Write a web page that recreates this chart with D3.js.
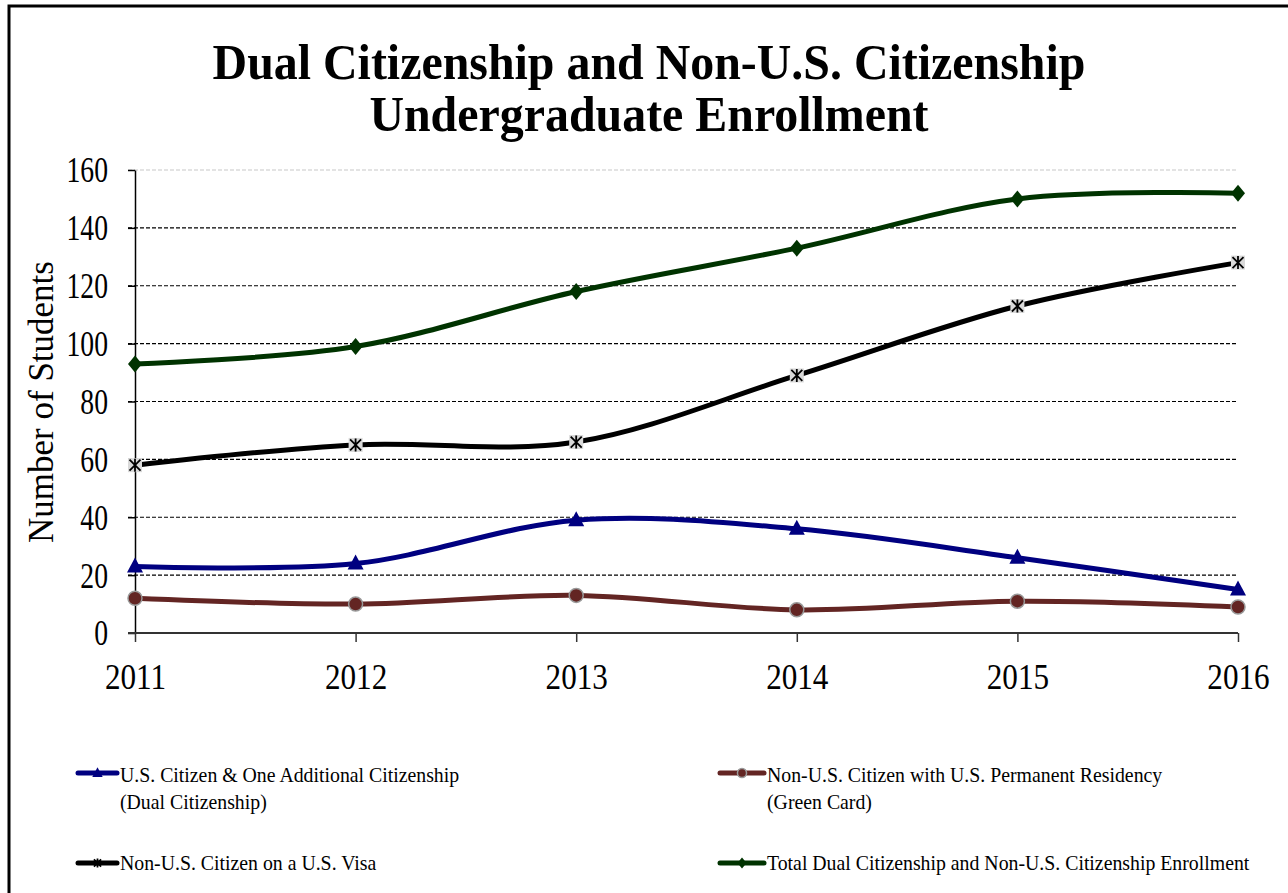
<!DOCTYPE html>
<html>
<head>
<meta charset="utf-8">
<script src="https://cdn.jsdelivr.net/npm/d3@7"></script>
<style>
  html, body { margin: 0; padding: 0; background: #fff; }
  svg { display: block; }
  text { font-family: "Liberation Serif", "Times New Roman", serif; fill: #000; }
</style>
</head>
<body>
<svg id="chart" width="1288" height="893"></svg>
<script>
// ---- data ----
const years = [2011, 2012, 2013, 2014, 2015, 2016];
const dualCitizenship = [23, 24, 39, 36, 26, 15];
const greenCard = [12, 10, 13, 8, 11, 9];
const visa = [58, 65, 66, 89, 113, 128];
const total = [93, 99, 118, 133, 150, 152];
const yTicks = [0, 20, 40, 60, 80, 100, 120, 140, 160];
const titleLines = ["Dual Citizenship and Non-U.S. Citizenship", "Undergraduate Enrollment"];
const yAxisLabel = "Number of Students";
const seriesNames = [
  ["U.S. Citizen & One Additional Citizenship", "(Dual Citizenship)"],
  ["Non-U.S. Citizen with U.S. Permanent Residency", "(Green Card)"],
  ["Non-U.S. Citizen on a U.S. Visa"],
  ["Total Dual Citizenship and Non-U.S. Citizenship Enrollment"]
];

const svg = d3.select("#chart");

function squeeze(sel, k) {
  sel.each(function() {
    const t = d3.select(this);
    const x = +t.attr("x");
    t.attr("transform", `translate(${x},0) scale(${k},1) translate(${-x},0)`);
  });
}

// border
svg.append("path")
  .attr("d", "M9,893 V6 H1288")
  .attr("fill", "none").attr("stroke", "#000").attr("stroke-width", 3);

// scales
const x = d3.scalePoint().domain(years).range([135, 1238]);
const y = d3.scaleLinear().domain([0, 160]).range([633, 170]);

// title
const title = svg.append("g");
titleLines.forEach((t, i) => {
  const tx = title.append("text")
    .attr("x", 649).attr("y", [79, 131][i])
    .attr("text-anchor", "middle")
    .attr("font-weight", "bold")
    .attr("font-size", 50)
    .text(t);
  squeeze(tx, 0.958);
});

// gridlines
const grid = svg.append("g");
grid.selectAll("line").data(yTicks.filter(d => d > 0)).join("line")
  .attr("x1", 128).attr("x2", 1238)
  .attr("y1", d => y(d)).attr("y2", d => y(d))
  .attr("stroke", d => d === 160 ? "#c8c8c8" : "#000")
  .attr("stroke-width", 1.2)
  .attr("stroke-dasharray", "4,2");

// y axis
const yAxis = svg.append("g").attr("transform", "translate(135,0)")
  .call(d3.axisLeft(y).tickValues(yTicks).tickSize(7).tickPadding(20).tickSizeOuter(0));
yAxis.select(".domain").attr("stroke", "#000").attr("stroke-width", 1.5);
yAxis.selectAll(".tick line").attr("stroke", "#000").attr("stroke-width", 1.5);
yAxis.selectAll(".tick text")
  .attr("font-family", "Liberation Serif").attr("font-size", 35).attr("fill", "#000")
  .attr("dy", "0.34em")
  .attr("transform", "translate(-27,0) scale(0.79,1) translate(27,0)");

// x axis
const xAxis = svg.append("g").attr("transform", "translate(0,633)")
  .call(d3.axisBottom(x).tickSize(9).tickPadding(22).tickSizeOuter(0).tickFormat(d3.format("d")));
xAxis.select(".domain").attr("stroke", "#333").attr("stroke-width", 2).attr("d", "M128,0H1238");
xAxis.selectAll(".tick line").attr("stroke", "#333").attr("stroke-width", 1.5);
xAxis.selectAll(".tick text")
  .attr("font-family", "Liberation Serif").attr("font-size", 35).attr("fill", "#000")
  .attr("dy", "0.71em")
  .attr("transform", "scale(0.89,1)");

// y axis label
svg.append("text")
  .attr("transform", "translate(53,402) rotate(-90)")
  .attr("text-anchor", "middle")
  .attr("font-size", 35)
  .text(yAxisLabel);

// series
const series = [
  { values: dualCitizenship, color: "#000080", marker: "triangle" },
  { values: greenCard, color: "#632523", marker: "circle" },
  { values: visa, color: "#000000", marker: "star" },
  { values: total, color: "#003300", marker: "diamond" }
];

const line = d3.line()
  .x((d, i) => x(years[i]))
  .y(d => y(d))
  .curve(d3.curveCardinal.tension(0));

function drawMarker(g, type, color, cx, cy, s) {
  if (type === "triangle") {
    g.append("path")
      .attr("d", `M${cx},${cy - 9 * s} L${cx + 8 * s},${cy + 6 * s} L${cx - 8 * s},${cy + 6 * s} Z`)
      .attr("fill", color);
  } else if (type === "circle") {
    g.append("circle").attr("cx", cx).attr("cy", cy).attr("r", 7 * s)
      .attr("fill", color).attr("stroke", "#999").attr("stroke-width", 1.5);
  } else if (type === "diamond") {
    g.append("path")
      .attr("d", `M${cx},${cy - 8.5 * s} L${cx + 7 * s},${cy} L${cx},${cy + 8.5 * s} L${cx - 7 * s},${cy} Z`)
      .attr("fill", color);
  } else if (type === "star") {
    const r = 5.5 * s;
    if (s >= 1) {
      g.append("rect").attr("x", cx - 7).attr("y", cy - 7).attr("width", 14).attr("height", 14)
        .attr("fill", "#d9d9d9");
    }
    g.append("path")
      .attr("d", `M${cx - r},${cy - r} L${cx + r},${cy + r} M${cx - r},${cy + r} L${cx + r},${cy - r} M${cx},${cy - r - 1} L${cx},${cy + r + 1}`)
      .attr("stroke", "#000").attr("stroke-width", 1.8).attr("fill", "none");
  }
}

const plot = svg.append("g");
series.forEach(s => {
  plot.append("path")
    .attr("d", line(s.values))
    .attr("fill", "none")
    .attr("stroke", s.color)
    .attr("stroke-width", 5)
    .attr("stroke-linejoin", "round");
});
series.forEach(s => {
  const g = plot.append("g");
  s.values.forEach((v, i) => drawMarker(g, s.marker, s.color, x(years[i]), y(v), 1));
});

// legend
const legendPos = [
  { lx: 78, tx: 120, ly: 773, ty: 782 },
  { lx: 720, tx: 767, ly: 773, ty: 782 },
  { lx: 78, tx: 120, ly: 863, ty: 870 },
  { lx: 720, tx: 767, ly: 863, ty: 870 }
];
const legend = svg.append("g");
series.forEach((s, i) => {
  const p = legendPos[i];
  const g = legend.append("g");
  g.append("line").attr("x1", p.lx).attr("x2", p.tx - 3).attr("y1", p.ly).attr("y2", p.ly)
    .attr("stroke", s.color).attr("stroke-width", 5).attr("stroke-linecap", "round");
  drawMarker(g, s.marker, s.color, (p.lx + p.tx - 3) / 2, p.ly, 0.65);
  seriesNames[i].forEach((nm, j) => {
    const t = g.append("text").attr("x", p.tx).attr("y", p.ty + j * 27)
      .attr("font-size", 20).text(nm);
    squeeze(t, 0.99);
  });
});
</script>
</body>
</html>
